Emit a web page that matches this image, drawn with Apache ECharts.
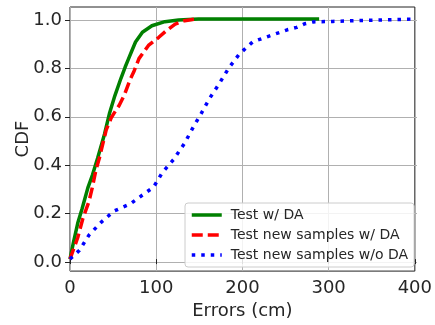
<!DOCTYPE html>
<html><head><meta charset="utf-8">
<script src="https://cdn.jsdelivr.net/npm/echarts@6/dist/echarts.min.js"></script>
<style>html,body{margin:0;padding:0;background:#fff}#c{width:435px;height:325px}</style>
</head><body><div id="c"></div>
<script>
const xTicks = [0, 100, 200, 300, 400];
const yTicks = [0.0, 0.2, 0.4, 0.6, 0.8, 1.0];
const seriesNames = ['Test w/ DA', 'Test new samples w/ DA', 'Test new samples w/o DA'];

const testDA_x = [0, 4, 9, 14, 21, 26, 32, 40, 46, 52, 59, 64, 68, 72, 76, 84, 95, 110, 126, 149, 200, 289];
const testDA_y = [0, 0.07, 0.15, 0.21, 0.30, 0.35, 0.42, 0.52, 0.61, 0.68, 0.752, 0.80, 0.835, 0.87, 0.904, 0.945, 0.972, 0.989, 0.996, 1.0, 1.0, 1.0];

const newDA_x = [0, 5, 9, 15, 22, 26, 30, 34, 42, 48, 51, 57, 63, 70, 74, 80, 91, 103, 112, 122, 133, 145];
const newDA_y = [0, 0.05, 0.09, 0.17, 0.24, 0.30, 0.37, 0.42, 0.538, 0.59, 0.607, 0.64, 0.683, 0.75, 0.78, 0.835, 0.89, 0.924, 0.952, 0.979, 0.993, 1.0];

const newNoDA_x = [0, 11, 22, 36, 51, 70, 88, 97, 107, 120, 133, 143, 152, 162, 173, 184, 196, 204, 212, 231, 252, 263, 272, 282, 305, 340, 400];
const newNoDA_y = [0, 0.037, 0.10, 0.153, 0.20, 0.23, 0.277, 0.30, 0.36, 0.414, 0.483, 0.55, 0.605, 0.67, 0.73, 0.795, 0.852, 0.879, 0.905, 0.929, 0.955, 0.965, 0.98, 0.988, 0.99, 0.994, 1.0];

const zip = (xs, ys) => xs.map((x, i) => [x, ys[i]]);
const FONT = 'DejaVu Sans';
const TXT = '#262626';

const chart = echarts.init(document.getElementById('c'), null, {renderer: 'canvas'});
chart.setOption({
  animation: false,
  backgroundColor: '#fff',
  textStyle: {fontFamily: FONT},
  grid: [
    {left: 70, right: 18, top: 7, bottom: 52, show: true, borderColor: '#222', borderWidth: 1, backgroundColor: 'transparent'},
    {left: 70, right: 18, top: 20, bottom: 63, show: false}
  ],
  xAxis: [
    {type: 'value', gridIndex: 0, min: xTicks[0], max: xTicks[xTicks.length - 1], interval: 100,
     axisLine: {show: false},
     axisTick: {show: true, inside: false, length: 5, lineStyle: {color: '#222', width: 1}},
     axisLabel: {fontSize: 18, color: TXT, margin: 8, fontFamily: FONT},
     splitLine: {show: true, lineStyle: {color: '#b0b0b0', width: 1}},
     name: 'Errors (cm)', nameLocation: 'middle', nameGap: 28,
     nameTextStyle: {fontSize: 18, color: TXT, fontFamily: FONT}},
    {type: 'value', gridIndex: 1, min: 0, max: 400, show: false}
  ],
  yAxis: [
    {type: 'value', gridIndex: 0, min: -0.05, max: 1.05, show: true,
     axisLine: {show: false}, axisTick: {show: false}, axisLabel: {show: false}, splitLine: {show: false},
     name: 'CDF', nameLocation: 'middle', nameGap: 38, nameRotate: 90,
     nameTextStyle: {fontSize: 18, color: TXT, fontFamily: FONT}},
    {type: 'value', gridIndex: 1, min: yTicks[0], max: yTicks[yTicks.length - 1], interval: 0.2,
     axisLine: {show: false},
     axisTick: {show: true, inside: false, length: 5, lineStyle: {color: '#222', width: 1}},
     axisLabel: {fontSize: 18, color: TXT, margin: 8, fontFamily: FONT, formatter: v => v.toFixed(1)},
     splitLine: {show: true, lineStyle: {color: '#b0b0b0', width: 1}}}
  ],
  legend: {
    orient: 'vertical', left: 185, top: 203,
    data: seriesNames,
    itemWidth: 30, itemHeight: 14, itemGap: 6,
    padding: [5, 6, 5, 5],
    backgroundColor: 'rgba(255,255,255,0.85)',
    borderColor: '#cccccc', borderWidth: 1, borderRadius: 3,
    itemStyle: {opacity: 0},
    lineStyle: {width: 3.5},
    textStyle: {fontSize: 14, color: TXT, fontFamily: FONT, padding: [0, 0, 0, 4]}
  },
  series: [
    {name: seriesNames[0], type: 'line', xAxisIndex: 0, yAxisIndex: 0, data: zip(testDA_x, testDA_y),
     showSymbol: false, symbol: 'none', color: '#008000',
     lineStyle: {color: '#008000', width: 3.5, type: 'solid'}, z: 3},
    {name: seriesNames[1], type: 'line', xAxisIndex: 0, yAxisIndex: 0, data: zip(newDA_x, newDA_y),
     showSymbol: false, symbol: 'none', color: '#ff0000',
     lineStyle: {color: '#ff0000', width: 3.5, type: [11, 5]}, z: 4},
    {name: seriesNames[2], type: 'line', xAxisIndex: 0, yAxisIndex: 0, data: zip(newNoDA_x, newNoDA_y),
     showSymbol: false, symbol: 'none', color: '#0000ff',
     lineStyle: {color: '#0000ff', width: 3.5, type: [3.5, 6]}, z: 5}
  ]
});
</script></body></html>
